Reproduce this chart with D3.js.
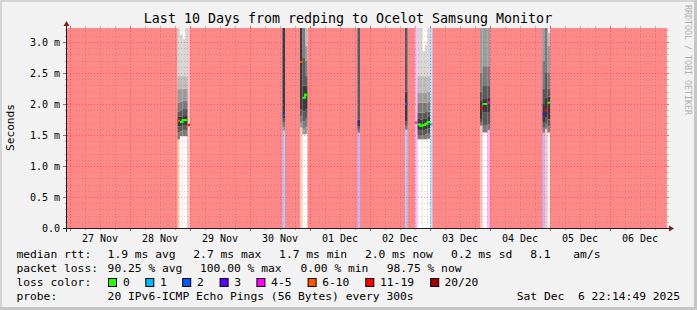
<!DOCTYPE html>
<html><head><meta charset="utf-8">
<script src="https://cdn.jsdelivr.net/npm/d3@7"></script>
<style>
html,body{margin:0;padding:0;background:#f2f2f2;}
svg{display:block;}
text{font-family:"DejaVu Sans Mono",monospace;white-space:pre;fill:#000;}
</style></head><body>
<svg id="c" width="697" height="310"></svg>
<script>
// ---------------- data ----------------
const title = "Last 10 Days from redping to Ocelot Samsung Monitor";
const yTickValues = [0, 0.5, 1.0, 1.5, 2.0, 2.5, 3.0];
const yTickLabels = ["0.0", "0.5 m", "1.0 m", "1.5 m", "2.0 m", "2.5 m", "3.0 m"];
const dayTicks = ["2025-11-27T12:00","2025-11-28T12:00","2025-11-29T12:00","2025-11-30T12:00","2025-12-01T12:00",
                  "2025-12-02T12:00","2025-12-03T12:00","2025-12-04T12:00","2025-12-05T12:00","2025-12-06T12:00"];
const dayLabels = ["27 Nov","28 Nov","29 Nov","30 Nov","01 Dec","02 Dec","03 Dec","04 Dec","05 Dec","06 Dec"];
const lossLabels = ["0","1","2","3","4-5","6-10","11-19","20/20"];
const lossColors = ["#26ff00","#00b8ff","#0059ff","#5e00ff","#ff00ff","#ff5500","#ff0000","#a10000"];
const lossBgColors = ["#ffffff","#b2e6ff","#b2c8ff","#c6b4ff","#ffb4ff","#ffd4b6","#ffc2c2","#ff8888"];

// hourly bins that received replies (every other hour: 20/20 lost)
const binHours = [
  "2025-11-28T19:00","2025-11-28T20:00","2025-11-28T21:00","2025-11-28T22:00","2025-11-28T23:00",
  "2025-11-30T13:00",
  "2025-11-30T20:00","2025-11-30T21:00","2025-11-30T22:00",
  "2025-12-01T19:00",
  "2025-12-02T14:00",
  "2025-12-02T18:00","2025-12-02T19:00","2025-12-02T20:00","2025-12-02T21:00","2025-12-02T22:00","2025-12-02T23:00","2025-12-03T00:00",
  "2025-12-03T20:00","2025-12-03T21:00","2025-12-03T22:00","2025-12-03T23:00",
  "2025-12-04T21:00","2025-12-04T22:00","2025-12-04T23:00"
];
const binLoss = [7,0,0,0,12, 2, 8,0,0, 3, 2, 4,0,0,0,0,0,1, 12,0,0,4, 3,12,0];
const binMedian = [1.73,1.71,1.74,1.74,1.66, 1.83, 2.68,2.10,2.15, 1.70, 2.00,
                   1.70,1.67,1.65,1.66,1.68,1.71,1.67, 1.93,2.00,2.00,2.02, 1.84,1.90,2.02];
// smoke: sorted ping-distribution band edges (ms), bottom to top
const binSmoke = [
  [1.43,1.54,1.64,1.73,1.80,1.88,2.02,2.24,2.45,3.6],
  [1.48,1.56,1.64,1.71,1.80,1.90,2.04,2.24,2.45,3.12],
  [1.48,1.57,1.66,1.74,1.82,1.92,2.05,2.25,2.45,3.05],
  [1.48,1.57,1.66,1.74,1.82,1.92,2.05,2.25,2.45,3.6],
  [],
  [1.57,1.63,1.70,1.77,1.83,3.6],
  [1.62,1.70,1.80,1.91,2.68,3.6],
  [1.51,1.60,1.72,1.88,2.10,2.30,2.75,3.6],
  [1.51,1.62,1.76,1.92,2.15,2.30,2.45,2.70,2.94,3.6],
  [1.54,1.59,1.64,1.70,1.75,3.6],
  [1.59,1.65,1.72,2.00,2.20,3.6],
  [],
  [1.43,1.50,1.58,1.67,1.76,1.86,2.02,2.18,2.45,3.6],
  [1.43,1.50,1.57,1.65,1.75,1.86,2.02,2.18,2.45,3.6],
  [1.43,1.50,1.58,1.66,1.76,1.86,2.02,2.18,2.45,2.85],
  [1.43,1.51,1.59,1.68,1.77,1.87,2.02,2.18,2.45,2.95],
  [1.44,1.52,1.61,1.71,1.79,1.88,2.03,2.20,2.45,3.6],
  [],
  [1.65,1.70,1.76,1.93,2.05,2.20,2.50,3.6],
  [1.54,1.65,1.86,2.00,2.08,2.29,2.61,3.6],
  [1.54,1.65,1.86,2.00,2.08,2.29,2.61,3.6],
  [1.58,1.67,1.86,2.02,2.10,2.30,2.61,3.6],
  [1.54,1.62,1.70,1.84,2.00,2.25,2.70,3.6],
  [1.60,1.68,1.78,1.90,2.10,2.50,3.6],
  [1.54,1.64,1.75,2.02,2.12,2.25,2.50,2.94,3.15]
];
const statRows = [
  ["median rtt:", "1.9 ms avg", "2.7 ms max", "1.7 ms min", "2.0 ms now", "0.2 ms sd", "8.1", "am/s"],
  ["packet loss:", "90.25 % avg", "100.00 % max", "0.00 % min", "98.75 % now"]
];
const probeText = ["probe:", "20 IPv6-ICMP Echo Pings (56 Bytes) every 300s", "Sat Dec  6 22:14:49 2025"];

// ---------------- layout ----------------
const W = 697, H = 310;
const X0 = 67, X1 = 667, Y0 = 28, Y1 = 228;
const parse = s => new Date(s);
const x = d3.scaleTime().domain([new Date(2025,10,26,22,48), new Date(2025,11,6,22,48)]).range([X0, X1]);
const y = d3.scaleLinear().domain([0, 3.226]).range([Y1, Y0]);
const lossClass = n => n === 0 ? 0 : n === 1 ? 1 : n === 2 ? 2 : n === 3 ? 3 : n <= 5 ? 4 : n <= 10 ? 5 : n <= 19 ? 6 : 7;
const smokeGrays = ["#3a3a3a","#5a5a5a","#7c7c7c","#9c9c9c","#bcbcbc","#d6d6d6","#e2e2e2"];

const svg = d3.select("#c");
svg.append("rect").attr("width", W).attr("height", H).attr("fill", "#f2f2f2");
// 3d border
svg.append("rect").attr("x",0).attr("y",0).attr("width",W).attr("height",2).attr("fill","#d4d4d4");
svg.append("rect").attr("x",0).attr("y",0).attr("width",2).attr("height",H).attr("fill","#d4d4d4");
svg.append("rect").attr("x",W-3).attr("y",0).attr("width",3).attr("height",H).attr("fill","#c6c6c6");
svg.append("rect").attr("x",0).attr("y",H-3).attr("width",W).attr("height",3).attr("fill","#c6c6c6");

svg.append("defs").append("clipPath").attr("id","plot")
  .append("rect").attr("x",X0).attr("y",Y0).attr("width",X1-X0).attr("height",Y1-Y0);

const plot = svg.append("g").attr("clip-path","url(#plot)");
// loss background (20/20 everywhere, other classes per bin)
plot.append("rect").attr("x",X0).attr("y",Y0).attr("width",X1-X0).attr("height",Y1-Y0).attr("fill",lossBgColors[7]);
const bins = binHours.map((h,i) => {
  const t = parse(h);
  return {t, t2: d3.timeHour.offset(t,1), loss: binLoss[i], cls: lossClass(binLoss[i]), med: binMedian[i], smoke: binSmoke[i]};
});
plot.selectAll("rect.lbg").data(bins).join("rect").attr("class","lbg")
  .attr("x", d => x(d.t)).attr("width", d => x(d.t2) - x(d.t))
  .attr("y", Y0).attr("height", Y1 - Y0)
  .attr("fill", d => lossBgColors[d.cls]);

// grid
const grid = svg.append("g");
const minorH = d3.range(1, 33).map(i => i/10).filter(v => Math.abs(v*2 - Math.round(v*2)) > 1e-6);
const majorH = yTickValues;
const cy = v => Math.round(y(v)) + 0.5;
grid.selectAll("line.mh").data(minorH).join("line")
  .attr("x1",X0).attr("x2",X1).attr("y1",cy).attr("y2",cy)
  .attr("stroke","rgba(110,110,110,0.32)").attr("stroke-dasharray","1,2");
grid.selectAll("line.Mh").data(majorH.filter(v=>v>0)).join("line")
  .attr("x1",X0).attr("x2",X1).attr("y1",cy).attr("y2",cy)
  .attr("stroke","rgba(220,40,40,0.5)").attr("stroke-dasharray","1,2");
const hours6 = x.ticks(d3.timeHour.every(6)).filter(t => t.getHours() !== 0);
const days = x.ticks(d3.timeDay.every(1));
const cx = t => Math.round(x(t)) + 0.5;
grid.selectAll("line.mv").data(hours6).join("line")
  .attr("x1",cx).attr("x2",cx).attr("y1",Y0).attr("y2",Y1)
  .attr("stroke","rgba(110,110,110,0.32)").attr("stroke-dasharray","1,2");
grid.selectAll("line.Mv").data(days).join("line")
  .attr("x1",cx).attr("x2",cx).attr("y1",Y0).attr("y2",Y1)
  .attr("stroke","rgba(220,40,40,0.5)").attr("stroke-dasharray","1,2");
// ticks outside
const ticks = svg.append("g");
minorH.concat(majorH).forEach(v => {
  const major = majorH.includes(v);
  ticks.append("line").attr("x1", X0 - (major ? 4 : 2)).attr("x2", X0).attr("y1", cy(v)).attr("y2", cy(v))
    .attr("stroke", major ? "#777" : "#aaa");
  ticks.append("line").attr("x1", X1).attr("x2", X1 + 2).attr("y1", cy(v)).attr("y2", cy(v))
    .attr("stroke", major ? "#d06060" : "#bbb");
});
hours6.concat(days).forEach(t => {
  const major = t.getHours() === 0;
  ticks.append("line").attr("x1", cx(t)).attr("x2", cx(t)).attr("y1", Y0 - 2).attr("y2", Y0)
    .attr("stroke", major ? "#d06060" : "#bbb");
  ticks.append("line").attr("x1", cx(t)).attr("x2", cx(t)).attr("y1", Y1).attr("y2", Y1 + (major ? 3 : 2))
    .attr("stroke", major ? "#777" : "#aaa");
});

// smoke
bins.forEach(b => {
  const e = b.smoke;
  if (!e.length) return;
  let m = e.indexOf(b.med);
  if (m < 0) m = d3.minIndex(e, v => Math.abs(v - b.med));
  for (let i = 0; i < e.length - 1; i++) {
    const d = i < m ? m - 1 - i : i - m;
    plot.append("rect").attr("x", x(b.t)).attr("width", x(b.t2) - x(b.t))
      .attr("y", y(e[i+1])).attr("height", y(e[i]) - y(e[i+1]))
      .attr("fill", smokeGrays[Math.min(d, smokeGrays.length - 1)]);
  }
});
// median markers
bins.forEach((b, i) => {
  plot.append("rect").attr("x", x(b.t)).attr("width", x(b.t2) - x(b.t))
    .attr("y", y(b.med) - 1).attr("height", 2).attr("fill", lossColors[b.cls]);
  const p = bins[i-1];
  if (p && p.cls === b.cls && +p.t2 === +b.t) {
    const ya = Math.min(y(p.med), y(b.med)) - 1, yb = Math.max(y(p.med), y(b.med)) + 1;
    plot.append("rect").attr("x", x(b.t) - 1).attr("width", 2).attr("y", ya).attr("height", yb - ya)
      .attr("fill", lossColors[b.cls]);
  }
});

// axes
const axis = svg.append("g");
axis.append("line").attr("x1", X0 - 4).attr("x2", X1 + 4).attr("y1", Y1 + 0.5).attr("y2", Y1 + 0.5).attr("stroke", "#1f1f1f");
axis.append("line").attr("x1", X0 - 0.5).attr("x2", X0 - 0.5).attr("y1", Y1 + 4).attr("y2", Y0 - 4).attr("stroke", "#1f1f1f");
axis.append("path").attr("d", `M${X1+7},${Y1+0.5} L${X1+2},${Y1-2.5} L${X1+2},${Y1+3.5} Z`).attr("fill", "#801f1f");
axis.append("path").attr("d", `M${X0-0.5},${Y0-7} L${X0-3.5},${Y0-2} L${X0+2.5},${Y0-2} Z`).attr("fill", "#801f1f");

// labels
svg.append("text").attr("x", 348).attr("y", 23).attr("text-anchor", "middle").attr("font-size", "13.3px").text(title);
svg.selectAll("text.yl").data(yTickValues).join("text").attr("class","yl")
  .attr("x", 60).attr("y", v => y(v) + 3.6).attr("text-anchor","end").attr("font-size","10px")
  .text((v,i) => yTickLabels[i]);
svg.selectAll("text.xl").data(dayTicks).join("text").attr("class","xl")
  .attr("x", s => x(parse(s))).attr("y", 241.5).attr("text-anchor","middle").attr("font-size","10px")
  .text((s,i) => dayLabels[i]);
svg.append("text").attr("transform","translate(14,127.5) rotate(-90)").attr("text-anchor","middle")
  .attr("font-size","11.2px").text("Seconds");
svg.append("text").attr("transform","translate(684.5,5) rotate(90)").attr("font-size","8.3px")
  .style("fill","#b0b0b0").text("RRDTOOL / TOBI OETIKER");

// legend
const leg = svg.append("g").attr("font-size","11.3px");
const row1x = [16.4, 107.6, 193.3, 279.1, 364.9, 451.1, 530.2, 573.3];
const row2x = [16.4, 107.6, 200, 300.4, 386.7];
statRows[0].forEach((s,i) => leg.append("text").attr("x", row1x[i]).attr("y", 258.3).attr("xml:space","preserve").text(s));
statRows[1].forEach((s,i) => leg.append("text").attr("x", row2x[i]).attr("y", 272.3).attr("xml:space","preserve").text(s));
leg.append("text").attr("x", 16.4).attr("y", 286.3).text("loss color:");
const boxX = [108, 145.3, 182.2, 219.6, 256.4, 307.6, 365.3, 430.2];
const labX = [123.1, 160, 197, 234.2, 271.1, 322.2, 380, 444.4];
lossLabels.forEach((l,i) => {
  leg.append("rect").attr("x", boxX[i] + 0.5).attr("y", 278.5).attr("width", 8).attr("height", 8)
    .attr("fill", lossColors[i]).attr("stroke", "#000");
  leg.append("text").attr("x", labX[i]).attr("y", 286.3).text(l);
});
leg.append("text").attr("x", 16.4).attr("y", 300.3).text(probeText[0]);
leg.append("text").attr("x", 107.6).attr("y", 300.3).text(probeText[1]);
leg.append("text").attr("x", 680).attr("y", 300.3).attr("text-anchor","end").attr("xml:space","preserve").text(probeText[2]);
</script>
</body></html>
